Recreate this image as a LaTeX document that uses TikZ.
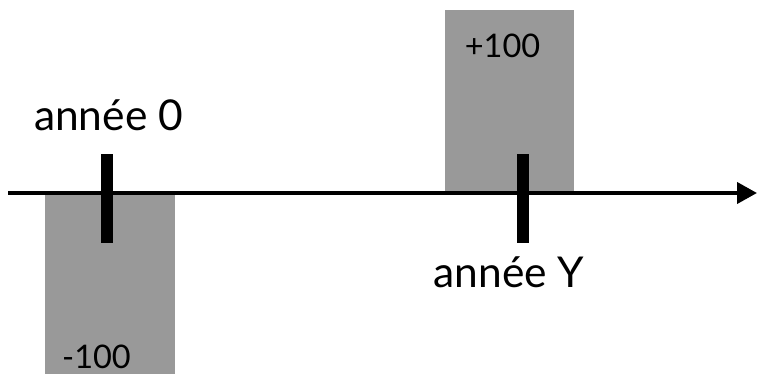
\documentclass[tikz,border=0pt]{standalone}
\usepackage{fontspec}
\setmainfont{Lato}
\usetikzlibrary{arrows.meta}
\definecolor{boxgray}{HTML}{999999}
\tikzset{
  flowbox/.style={fill=boxgray, draw=none, inner sep=0pt, minimum width=#1},
  tickmark/.style={fill=black, draw=none, inner sep=0pt, minimum width=12pt, minimum height=89pt},
  biglabel/.style={anchor=base, inner sep=0pt, font=\fontsize{42.5}{50}\selectfont},
  smalllabel/.style={anchor=base, inner sep=0pt, font=\fontsize{32.5}{38}\selectfont},
  axisline/.style={line width=4pt, -{Triangle[length=20pt, width=21pt]}}
}
\begin{document}
\begin{tikzpicture}[x=1pt, y=-1pt]
\useasboundingbox (0,0) rectangle (757,374);
\node[flowbox=130pt, minimum height=181pt] (neg) at (110,283.5) {};
\node[flowbox=129pt, minimum height=183pt] (pos) at (509.5,101.5) {};
\coordinate (start) at (8,193);
\coordinate (end) at (757,193);
\draw[axisline] (start) -- (end);
\node[tickmark] (t0) at (107,198.5) {};
\node[tickmark] (tY) at (523,198.5) {};
\node[biglabel] (l0) at (108.5,131) {année 0};
\node[biglabel] (lY) at (509,287) {année Y};
\node[smalllabel] (vp) at (502.5,58) {+100};
\node[smalllabel] (vn) at (96.5,368) {-100};
\end{tikzpicture}
\end{document}
